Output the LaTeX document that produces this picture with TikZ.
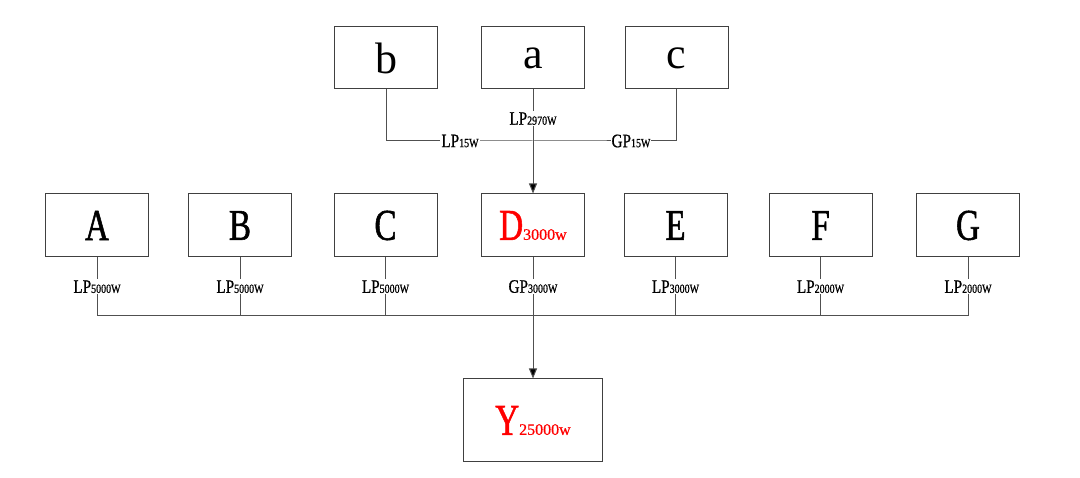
\documentclass[tikz,border=0pt]{standalone}
\usepackage{fontspec}
\usetikzlibrary{arrows.meta}
\newfontfamily\bigcond[FakeStretch=0.75,FakeBold=1.2]{Liberation Serif}
\newfontfamily\normser{Liberation Serif}
\newfontfamily\subser[FakeBold=0.6]{Liberation Serif}
\newfontfamily\labcond[FakeStretch=0.8,FakeBold=0.8]{Liberation Serif}
\newcommand\mylab[2]{{\labcond\fontsize{19}{19}\selectfont #1}{\labcond\fontsize{12.5}{12.5}\selectfont #2}}
\newcommand\bigup[1]{{\bigcond\fontsize{44}{44}\selectfont #1}}
\newcommand\biglow[1]{{\normser\fontsize{44}{44}\selectfont #1}}
\newcommand\redsub[1]{{\subser\fontsize{16}{16}\selectfont #1}}
\definecolor{linec}{HTML}{505050}
\definecolor{boxc}{HTML}{404040}
\definecolor{redc}{HTML}{FF0000}
\begin{document}
\begin{tikzpicture}[x=1pt,y=-1pt,
  box/.style={draw=boxc, line width=1pt, minimum width=103pt, minimum height=63pt, inner sep=0pt},
  topbox/.style={box, minimum height=62pt},
  conn/.style={draw=linec, line width=1pt},
  arr/.style={conn, -{Triangle[length=10pt,width=8pt,fill=black]}},
  lab/.style={fill=white, inner sep=1pt}]
\useasboundingbox (0,0) rectangle (1080,478);
% top row
\node[topbox] (b) at (386,58) {\biglow{b}};
\node[topbox] (a) at (533,58) {\biglow{a}};
\node[topbox] (c) at (676.5,58) {\biglow{c}};
% middle row
\node[box] (A) at (97,225.5) {\bigup{A}};
\node[box] (B) at (240,225.5) {\bigup{B}};
\node[box] (C) at (385.5,225.5) {\bigup{C}};
\node[box,text=redc] (D) at (533,225.5) {\bigup{D}\redsub{3000w}};
\node[box] (E) at (675.5,225.5) {\bigup{E}};
\node[box] (F) at (820.5,225.5) {\bigup{F}};
\node[box] (G) at (968,225.5) {\bigup{G}};
% bottom
\node[box, minimum width=139pt, minimum height=83pt, text=redc] (Y) at (533,420.5) {\bigup{Y}\redsub{25000w}};
% top connections
\coordinate (jt) at (533,141);
\draw[conn] (b.south) |- (jt) -| (c.south);
\node[lab] (l15) at (460,141) {\mylab{LP}{15W}};
\node[lab] (g15) at (631,141) {\mylab{GP}{15W}};
\draw[arr] (a.south) -- (D.north) node[lab, pos=0.28] {\mylab{LP}{2970W}};
% bus
\coordinate (busL) at (97,316);
\coordinate (busR) at (968,316);
\draw[conn] (busL) -- (busR);
\draw[conn] (A.south) -- (A.south |- busL) node[lab, midway] {\mylab{LP}{5000W}};
\draw[conn] (B.south) -- (B.south |- busL) node[lab, midway] {\mylab{LP}{5000W}};
\draw[conn] (C.south) -- (C.south |- busL) node[lab, midway] {\mylab{LP}{5000W}};
\draw[conn] (E.south) -- (E.south |- busL) node[lab, midway] {\mylab{LP}{3000W}};
\draw[conn] (F.south) -- (F.south |- busL) node[lab, midway] {\mylab{LP}{2000W}};
\draw[conn] (G.south) -- (G.south |- busL) node[lab, midway] {\mylab{LP}{2000W}};
\draw[arr] (D.south) -- (Y.north) node[lab, pos=0.24] {\mylab{GP}{3000W}};
\end{tikzpicture}
\end{document}
